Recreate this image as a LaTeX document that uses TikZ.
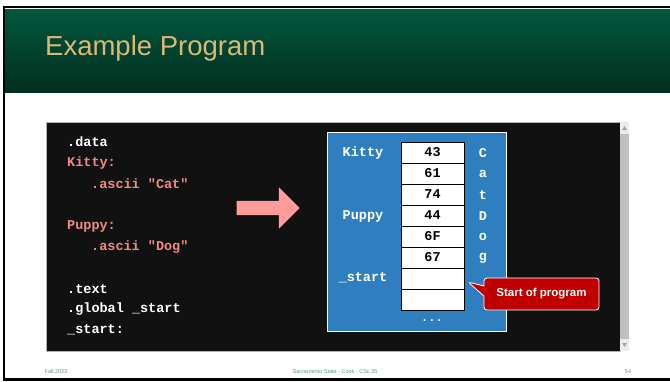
\documentclass[tikz,border=0pt]{standalone}
\usepackage{fontspec}
\setmainfont{Liberation Sans}
\setmonofont{Liberation Mono}
\usepackage{tikz}
\usetikzlibrary{shapes,shapes.arrows,shapes.callouts}
\definecolor{headTop}{HTML}{02583D}
\definecolor{headBot}{HTML}{012E1F}
\definecolor{titleGold}{HTML}{D9B978}
\definecolor{codeBg}{HTML}{111111}
\definecolor{codePink}{HTML}{F08A84}
\definecolor{memBlue}{HTML}{2F7FC0}
\definecolor{arrowPink}{HTML}{FF9B9B}
\definecolor{noteRed}{HTML}{C00000}
\definecolor{footGreen}{HTML}{5A9A82}
\tikzstyle{codeW}=[anchor=west, inner sep=0pt, text=white, font=\ttfamily\bfseries\fontsize{13.5}{16}\selectfont]
\tikzstyle{codeP}=[codeW, text=codePink]
\tikzstyle{memLabel}=[inner sep=0pt, text=white, font=\ttfamily\bfseries\fontsize{13.5}{16}\selectfont]
\tikzstyle{cell}=[rectangle, draw=black, fill=white, line width=0.9pt, minimum width=63pt, minimum height=21pt, inner sep=0pt, font=\ttfamily\bfseries\fontsize{13.5}{16}\selectfont]
\tikzstyle{foot}=[inner sep=0pt, text=footGreen, font=\fontsize{5.5}{6}\selectfont]
\begin{document}
\begin{tikzpicture}[x=1pt, y=-1pt]
      \useasboundingbox (0, 0) rectangle (670, 381);
      \fill[white] (0, 0) rectangle (670, 381);
      %%%%%%%%%%%% Slide frame and title
      \shade[top color=headTop, bottom color=headBot] (5, 9) rectangle (670, 92);
      \draw[black, line width=2.5pt] (3, 7) -- (670, 7);
      \draw[black, line width=2.5pt] (4, 6) -- (4, 381);
      \draw[black, line width=2.5pt] (3, 379.5) -- (670, 379.5);
      \node(title) [anchor=west, inner sep=0pt, text=titleGold, font=\fontsize{27.5}{30}\selectfont] at (45, 48){Example Program};
      %%%%%%%%%%%% Code window
      \node(code) [rectangle, fill=codeBg, draw=gray!60, line width=0.5pt, minimum width=574pt, minimum height=229pt, inner sep=0pt] at (333, 236.5){};
      \fill[gray!50] (620, 122) rectangle (629, 351);
      \fill[gray!15] (620, 122) rectangle (629, 134);
      \fill[gray!15] (620, 339) rectangle (629, 351);
      \fill[gray!70] (622, 130) -- (627, 130) -- (624.5, 126) -- cycle;
      \fill[gray!70] (622, 343) -- (627, 343) -- (624.5, 347) -- cycle;
      \node(l1) [codeW] at (67, 142){.data};
      \node(l2) [codeP] at (67, 163){Kitty:};
      \node(l3) [codeP] at (91, 184){.ascii "Cat"};
      \node(l4) [codeP] at (67, 226){Puppy:};
      \node(l5) [codeP] at (91, 247){.ascii "Dog"};
      \node(l6) [codeW] at (67, 289){.text};
      \node(l7) [codeW] at (67, 309){.global \_start};
      \node(l8) [codeW] at (67, 330){\_start:};
      \node(arrow) [single arrow, fill=arrowPink, inner sep=7pt, minimum width=41pt, minimum height=63pt, single arrow head extend=13.5pt] at (264.5, 208){};
      %%%%%%%%%%%% Memory
      \node(mem) [rectangle, fill=memBlue, draw=white, line width=0.8pt, minimum width=179pt, minimum height=199pt, inner sep=0pt] at (416.5, 231.5){};
      \node(c0) [cell] at (432.5, 152.5){43};
      \node(c1) [cell] at (432.5, 173.5){61};
      \node(c2) [cell] at (432.5, 194.5){74};
      \node(c3) [cell] at (432.5, 215.5){44};
      \node(c4) [cell] at (432.5, 236.5){6F};
      \node(c5) [cell] at (432.5, 257.5){67};
      \node(c6) [cell] at (432.5, 278.5){};
      \node(c7) [cell] at (432.5, 299.5){};
      \node(kitty) [memLabel] at (363, 153){Kitty};
      \node(puppy) [memLabel] at (363, 216){Puppy};
      \node(start) [memLabel] at (363, 278){\_start};
      \node(ch0) [memLabel] at (483, 153){C};
      \node(ch1) [memLabel] at (483, 174){a};
      \node(ch2) [memLabel] at (483, 195){t};
      \node(ch3) [memLabel] at (483, 216){D};
      \node(ch4) [memLabel] at (483, 237){o};
      \node(ch5) [memLabel] at (483, 258){g};
      \node(dots) [memLabel, font=\ttfamily\bfseries\fontsize{12}{14}\selectfont] at (432, 321){...};
      %%%%%%%%%%%% Callout
      \coordinate (tip) at (468, 282);
      \node(note) [rectangle callout, callout absolute pointer={(tip)}, callout pointer width=10pt, rounded corners=3pt, fill=noteRed, draw=white, line width=0.8pt, minimum width=115pt, minimum height=32pt, text=white, font=\bfseries\fontsize{11.5}{13}\selectfont] at (541.5, 294){Start of program};
      %%%%%%%%%%%% Footer
      \node(f1) [foot] at (56, 372){Fall 2023};
      \node(f2) [foot] at (335, 372){Sacramento State - Cook - CSc 35};
      \node(f3) [foot] at (628, 372){54};
\end{tikzpicture}
\end{document}
